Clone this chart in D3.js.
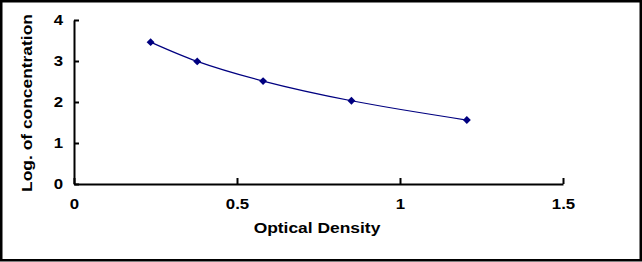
<!DOCTYPE html>
<html>
<head>
<meta charset="utf-8">
<script src="https://cdn.jsdelivr.net/npm/d3@7"></script>
<style>
  body { margin: 0; background: #fff; }
  text { font-family: Arial, "Liberation Sans", sans-serif; font-weight: bold; fill: #000; }
</style>
</head>
<body>
<script>
// Standard curve points
var opticalDensity = [0.235, 0.378, 0.58, 0.851, 1.205]
var logConc = [3.46, 2.99, 2.51, 2.03, 1.56]

var xTicks = [0, 0.5, 1, 1.5]
var yTicks = [0, 1, 2, 3, 4]
var xTitle = 'Optical Density'
var yTitle = 'Log. of concentration'

var width = 642
var height = 262
var margin = { top: 20, right: 79, bottom: 78, left: 74 }

var svg = d3.select('body').append('svg')
  .attr('width', width)
  .attr('height', height)

// outer frame
svg.append('rect')
  .attr('x', 1.25)
  .attr('y', 1.25)
  .attr('width', width - 2.5)
  .attr('height', height - 3)
  .attr('fill', 'none')
  .attr('stroke', '#000')
  .attr('stroke-width', 2.5)

var x = d3.scaleLinear()
  .domain([0, 1.5])
  .range([margin.left, width - margin.right])

var y = d3.scaleLinear()
  .domain([0, 4])
  .range([height - margin.bottom, margin.top])

// text in the original is drawn a bit wider than Arial
function widen (sel) {
  sel.each(function () {
    var len = this.getComputedTextLength()
    d3.select(this)
      .attr('textLength', len * 1.2)
      .attr('lengthAdjust', 'spacingAndGlyphs')
  })
}

var xAxis = svg.append('g')
  .attr('transform', 'translate(0,' + y(0) + ')')
  .call(d3.axisBottom(x)
    .tickValues(xTicks)
    .tickFormat(d3.format('~g'))
    .tickSize(-6)
    .tickSizeOuter(0)
    .tickPadding(15))

var yAxis = svg.append('g')
  .attr('transform', 'translate(' + x(0) + ',0)')
  .call(d3.axisLeft(y)
    .tickValues(yTicks)
    .tickFormat(d3.format('d'))
    .tickSize(-5)
    .tickSizeOuter(0)
    .tickPadding(11))

svg.selectAll('.domain, .tick line')
  .attr('stroke', '#000')
  .attr('stroke-width', 2)

svg.selectAll('.tick text')
  .attr('font-size', 14)
  .attr('font-family', null)
  .attr('fill', '#000')
  .call(widen)

// axis titles
svg.append('text')
  .attr('x', 317)
  .attr('y', 233)
  .attr('text-anchor', 'middle')
  .attr('font-size', 14.5)
  .text(xTitle)
  .call(widen)

svg.append('text')
  .attr('transform', 'translate(32,103) rotate(-90)')
  .attr('text-anchor', 'middle')
  .attr('font-size', 14.5)
  .text(yTitle)
  .call(widen)

// smoothed line through the points
var pts = opticalDensity.map(function (d, i) {
  return [d, logConc[i]]
})

var line = d3.line()
  .x(function (d) { return x(d[0]) })
  .y(function (d) { return y(d[1]) })
  .curve(d3.curveCatmullRom)

svg.append('path')
  .datum(pts)
  .attr('d', line)
  .attr('fill', 'none')
  .attr('stroke', '#000080')
  .attr('stroke-width', 1.2)

// diamond markers
svg.selectAll('path.marker')
  .data(pts)
  .enter().append('path')
  .attr('class', 'marker')
  .attr('d', d3.symbol().type(d3.symbolDiamond2).size(40))
  .attr('transform', function (d) {
    return 'translate(' + x(d[0]) + ',' + y(d[1]) + ')'
  })
  .attr('fill', '#000080')
</script>
</body>
</html>
